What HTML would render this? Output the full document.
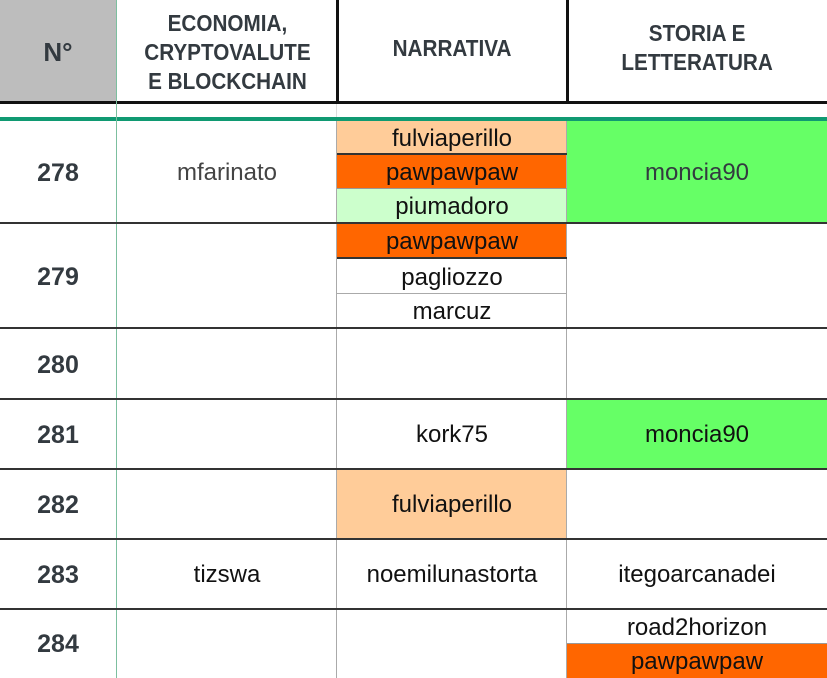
<!DOCTYPE html>
<html><head><meta charset="utf-8"><style>
body{margin:0;width:827px;height:678px;overflow:hidden;background:#fff;position:relative;font-family:"Liberation Sans",sans-serif;}
.c{position:absolute;display:flex;align-items:center;justify-content:center;text-align:center;box-sizing:border-box;font-size:24px;color:#111;white-space:nowrap;padding-top:2px}
.n{font-size:25px;color:#333a40;font-weight:bold;}
.h{font-size:23px;color:#333a40;line-height:29px;font-weight:bold;}
.h span{display:inline-block;transform:scaleX(0.9);}
.l{position:absolute;}
</style></head><body>
<div class="c h" style="left:0;top:0;width:116px;height:102px;background:#bdbdbd;font-size:26px">N°</div>
<div class="c h" style="left:117px;top:0;width:220px;height:102px"><span>ECONOMIA,<br>CRYPTOVALUTE<br>E BLOCKCHAIN</span></div>
<div class="c h" style="left:337px;top:0;width:230px;height:102px;padding-bottom:8px"><span>NARRATIVA</span></div>
<div class="c h" style="left:567px;top:0;width:260px;height:102px;padding-bottom:8px"><span>STORIA E<br>LETTERATURA</span></div>
<div class="l" style="left:0;top:101px;width:827px;height:3px;background:#111"></div>
<div class="l" style="left:336px;top:0;width:3px;height:103px;background:#111"></div>
<div class="l" style="left:566px;top:0;width:3px;height:103px;background:#111"></div>
<div class="l" style="left:336px;top:104px;width:1px;height:14px;background:#ddd"></div>
<div class="l" style="left:0;top:117px;width:827px;height:4px;background:#109a72"></div>

<div class="c" style="left:337px;top:121px;width:230px;height:33px;background:#ffcc99">fulviaperillo</div>
<div class="c" style="left:337px;top:154px;width:230px;height:35px;background:#ff6600">pawpawpaw</div>
<div class="c" style="left:337px;top:189px;width:230px;height:34px;background:#ccffcc">piumadoro</div>
<div class="c" style="left:567px;top:121px;width:260px;height:102px;background:#66ff66;color:#333a40">moncia90</div>
<div class="c" style="left:337px;top:224px;width:230px;height:34px;background:#ff6600">pawpawpaw</div>
<div class="c" style="left:337px;top:259px;width:230px;height:35px">pagliozzo</div>
<div class="c" style="left:337px;top:294px;width:230px;height:34px">marcuz</div>
<div class="c" style="left:337px;top:399px;width:230px;height:70px">kork75</div>
<div class="c" style="left:567px;top:399px;width:260px;height:70px;background:#66ff66">moncia90</div>
<div class="c" style="left:337px;top:469px;width:230px;height:70px;background:#ffcc99">fulviaperillo</div>
<div class="c" style="left:117px;top:121px;width:220px;height:102px;color:#444">mfarinato</div>
<div class="c" style="left:117px;top:539px;width:220px;height:70px">tizswa</div>
<div class="c" style="left:337px;top:539px;width:230px;height:70px">noemilunastorta</div>
<div class="c" style="left:567px;top:539px;width:260px;height:70px">itegoarcanadei</div>
<div class="c" style="left:567px;top:610px;width:260px;height:34px">road2horizon</div>
<div class="c" style="left:567px;top:644px;width:260px;height:34px;background:#ff6600">pawpawpaw</div>

<div class="c n" style="left:0;top:121px;width:116px;height:102px">278</div>
<div class="c n" style="left:0;top:224px;width:116px;height:104px">279</div>
<div class="c n" style="left:0;top:329px;width:116px;height:70px">280</div>
<div class="c n" style="left:0;top:399px;width:116px;height:70px">281</div>
<div class="c n" style="left:0;top:469px;width:116px;height:70px">282</div>
<div class="c n" style="left:0;top:539px;width:116px;height:70px">283</div>
<div class="c n" style="left:0;top:609px;width:116px;height:69px">284</div>

<div class="l" style="left:116px;top:0;width:1px;height:678px;background:#7cbf9f"></div>
<div class="l" style="left:336px;top:121px;width:1px;height:557px;background:#aaa"></div>
<div class="l" style="left:566px;top:121px;width:1px;height:557px;background:#aaa"></div>

<div class="l" style="left:337px;top:153px;width:230px;height:2px;background:#333"></div>
<div class="l" style="left:337px;top:188px;width:230px;height:1px;background:#999"></div>
<div class="l" style="left:337px;top:257px;width:230px;height:2px;background:#333"></div>
<div class="l" style="left:337px;top:293px;width:230px;height:1px;background:#aaa"></div>
<div class="l" style="left:567px;top:643px;width:260px;height:1px;background:#999"></div>

<div class="l" style="left:0;top:222px;width:827px;height:2px;background:#333"></div>
<div class="l" style="left:0;top:327px;width:827px;height:2px;background:#333"></div>
<div class="l" style="left:0;top:398px;width:827px;height:2px;background:#333"></div>
<div class="l" style="left:0;top:468px;width:827px;height:2px;background:#333"></div>
<div class="l" style="left:0;top:538px;width:827px;height:2px;background:#333"></div>
<div class="l" style="left:0;top:608px;width:827px;height:2px;background:#333"></div>
</body></html>
